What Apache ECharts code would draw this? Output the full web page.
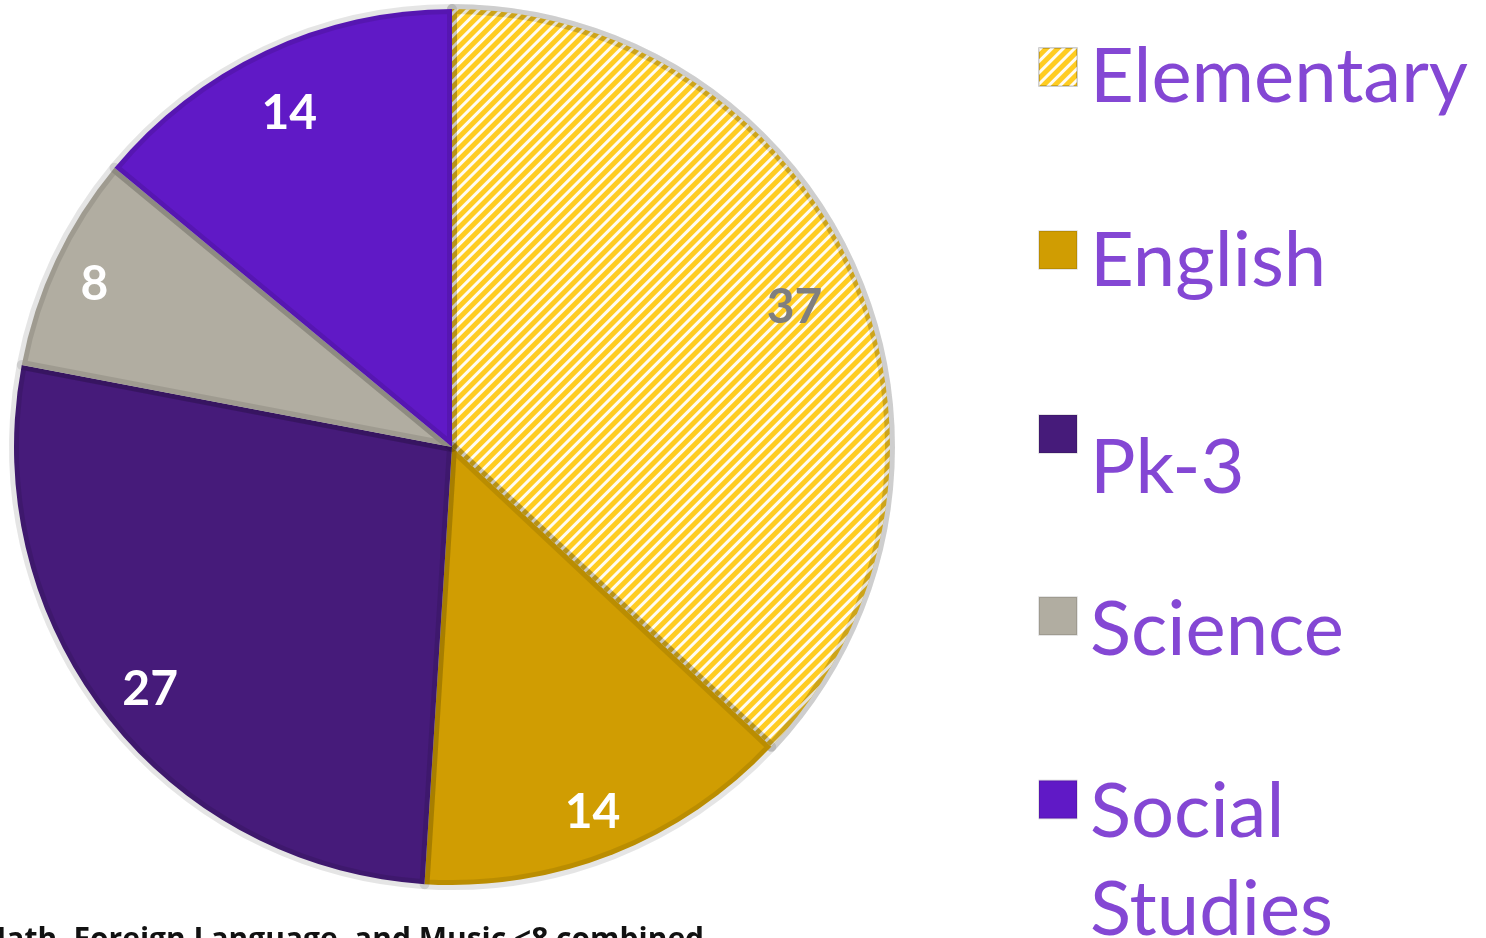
<!DOCTYPE html>
<html>
<head>
<meta charset="utf-8">
<script src="https://cdn.jsdelivr.net/npm/echarts@6/dist/echarts.min.js"></script>
<style>
  html, body { margin: 0; padding: 0; background: #fff; }
  #main { width: 1486px; height: 938px; }
</style>
</head>
<body>
<div id="main"></div>
<script>
// 数据
var categories = ['Elementary', 'English', 'Pk-3', 'Science', 'Social Studies'];
var values = [37, 14, 27, 8, 14];
var note = 'Math, Foreign Language, and Music <8 combined';

var colors = ['#FFCC22', '#D09D02', '#461B7A', '#B1ADA1', '#6019C6'];
var labelColors = ['#7F7F7F', '#fff', '#fff', '#fff', '#fff'];
var labelOffsets = [[-8, 12], [0, 10], [0, 8], [-12, 0], [0, 12]];

var myChart = echarts.init(document.getElementById('main'));

var pieData = categories.map(function (name, i) {
    var item = {
        name: name,
        value: values[i],
        itemStyle: { color: colors[i] }
    };
    if (i === 0) {
        item.itemStyle.decal = {
            symbol: 'rect',
            symbolSize: 1,
            color: 'rgba(255,255,255,0.95)',
            dashArrayX: [[1, 0]],
            dashArrayY: [3, 5],
            rotation: -Math.PI / 4
        };
    }
    return item;
});

var labelData = categories.map(function (name, i) {
    return {
        name: name,
        value: values[i],
        label: { color: labelColors[i], offset: labelOffsets[i] }
    };
});

// 图例: 方块顶部位置, 首行文字相对方块中心下移量
var iconTops = [48, 231, 414, 597, 780];
var textShift = [10, 11.5, 34.5, 14.5, 12.5];
var ICON = 38;
var FONT = 76;

var legends = categories.map(function (name, i) {
    var n = name.split(' ').length;
    var lh = n > 1 ? 98 : ICON;
    var s = textShift[i];
    var gap = 2 * s + (n - 1) * lh;
    // 包围盒顶部: 方块 / 首行文字 / gap 行中线, 取最高者
    var rectOff = Math.min(0, s + ICON / 2 - FONT / 2, ICON / 2 - n * lh / 2);
    return {
        data: [name],
        left: 1038,
        top: iconTops[i] + rectOff,
        padding: 0,
        icon: 'rect',
        itemWidth: ICON,
        itemHeight: ICON,
        itemGap: 0,
        selectedMode: false,
        formatter: function (str) {
            return '{gap| }\n' + str.split(' ').map(function (w) {
                return '{t|' + w + '}';
            }).join('\n');
        },
        textStyle: {
            rich: {
                gap: { fontSize: 1, lineHeight: gap },
                t: {
                    fontFamily: 'Lato',
                    fontSize: FONT,
                    lineHeight: lh,
                    color: '#8447D4',
                    padding: [0, 0, 0, 8]
                }
            }
        }
    };
});

var option = {
    animation: false,
    title: {
        text: note,
        left: -22,
        top: 925,
        padding: 0,
        textStyle: {
            fontFamily: 'Open Sans',
            fontWeight: 'bold',
            fontSize: 30,
            color: '#111'
        }
    },
    legend: legends,
    series: [
        {
            type: 'pie',
            center: [452, 447],
            radius: [0, 438],
            startAngle: 90,
            clockwise: true,
            label: { show: false },
            labelLine: { show: false },
            emphasis: { disabled: true },
            itemStyle: {
                borderColor: 'rgba(0,0,0,0.1)',
                borderWidth: 10
            },
            data: pieData
        },
        {
            type: 'pie',
            center: [452, 447],
            radius: [318, 440],
            startAngle: 90,
            clockwise: true,
            silent: true,
            legendHoverLink: false,
            itemStyle: { color: 'transparent' },
            label: {
                show: true,
                position: 'inside',
                formatter: '{c}',
                fontFamily: 'Lato',
                fontWeight: 'bold',
                fontSize: 48
            },
            labelLine: { show: false },
            emphasis: { disabled: true },
            data: labelData
        }
    ]
};
myChart.setOption(option);
</script>
</body>
</html>
